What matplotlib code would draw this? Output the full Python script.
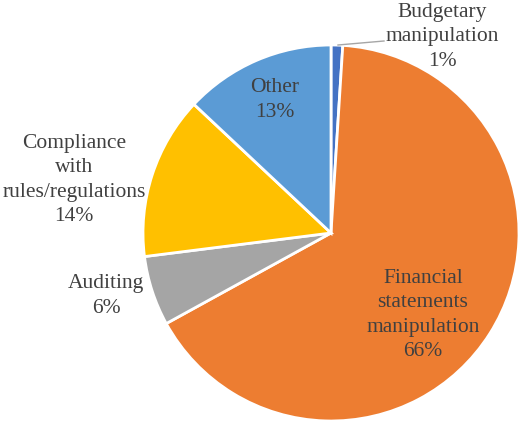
import matplotlib.pyplot as plt

categories = ["Budgetary\nmanipulation", "Financial\nstatements\nmanipulation",
              "Auditing", "Compliance\nwith\nrules/regulations", "Other"]
shares = [1, 66, 6, 14, 13]
colors = ["#4472C4", "#ED7D31", "#A5A5A5", "#FFC000", "#5B9BD5"]

# label centres in pixels of the original picture (x, y from top)
label_px = [(442, 37), (423, 315), (106, 296), (74, 180), (275, 100)]

W, H = 520, 423
cx, cy, r = 331, 233, 188

plt.rcParams['font.family'] = ['Liberation Serif', 'DejaVu Serif']

fig = plt.figure(figsize=(W / 100, H / 100), dpi=100)
ax = fig.add_axes([(cx - r) / W, (H - cy - r) / H, 2 * r / W, 2 * r / H])
ax.pie(shares, colors=colors, startangle=90, counterclock=False, radius=1,
       wedgeprops=dict(edgecolor="white", linewidth=2))
ax.set_xlim(-1, 1)
ax.set_ylim(-1, 1)
ax.set_aspect("equal")
ax.axis("off")

def px2data(px, py):
    return (px - cx) / r, (cy - py) / r

for name, val, (px, py) in zip(categories, shares, label_px):
    x, y = px2data(px, py)
    ax.text(x, y, f"{name}\n{val}%", ha="center", va="center", fontsize=15.5,
            color="#404040", linespacing=1.38, clip_on=False)

# leader line for the small slice
x0, y0 = px2data(338, 45)
x1, y1 = px2data(384, 41)
ax.plot([x0, x1], [y0, y1], color="#A6A6A6", lw=1, clip_on=False)

fig.savefig("out.png", dpi=100)
